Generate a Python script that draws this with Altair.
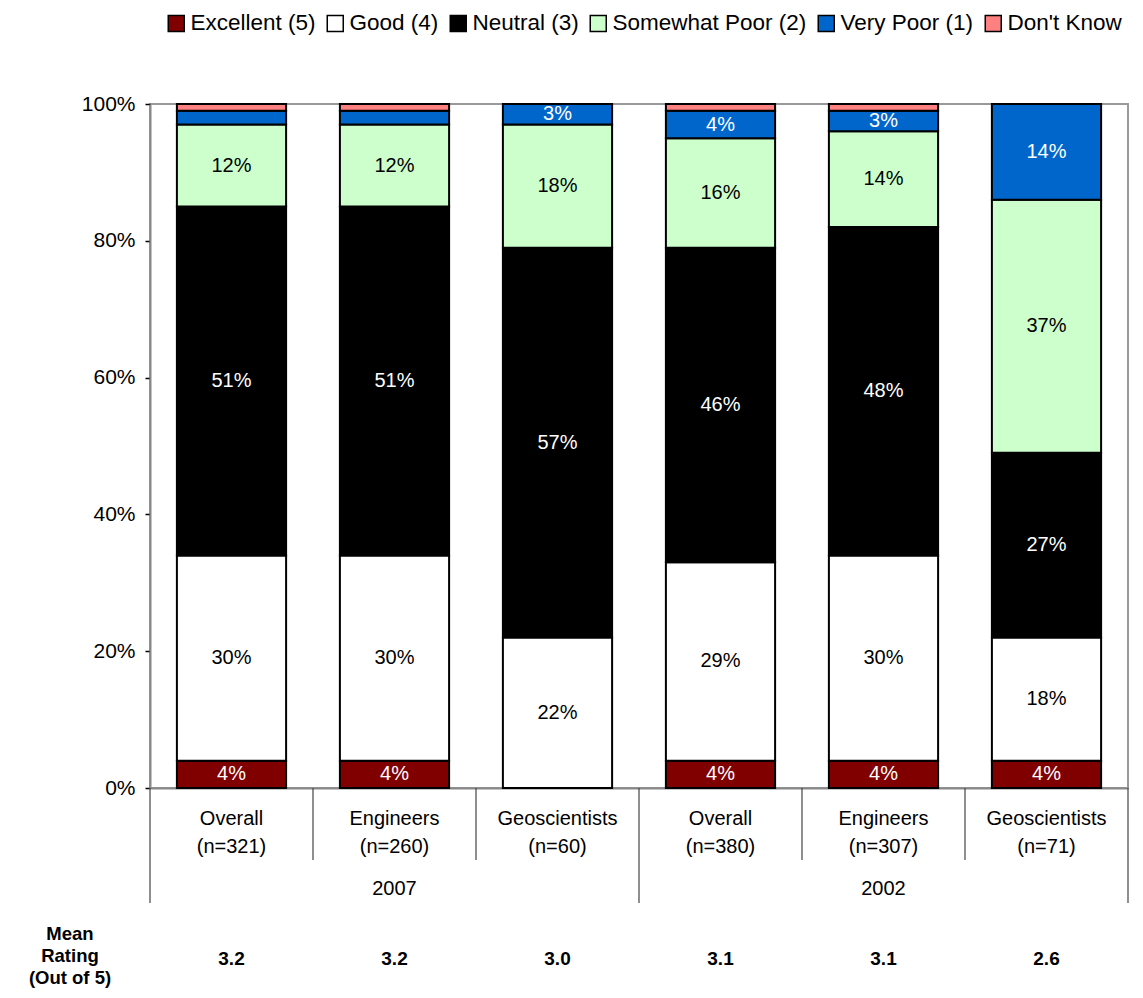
import altair as alt
import pandas as pd

categories = ["Overall|(n=321)", "Engineers|(n=260)", "Geoscientists|(n=60)",
              "Overall|(n=380)", "Engineers|(n=307)", "Geoscientists|(n=71)"]
responses = ["Excellent (5)", "Good (4)", "Neutral (3)",
             "Somewhat Poor (2)", "Very Poor (1)", "Don't Know"]
excellent = [4, 4, 0, 4, 4, 4]
good = [30, 30, 22, 29, 30, 18]
neutral = [51, 51, 57, 46, 48, 27]
somewhat_poor = [12, 12, 18, 16, 14, 37]
very_poor = [2, 2, 3, 4, 3, 14]
dont_know = [1, 1, 0, 1, 1, 0]
colors = ["#800000", "#FFFFFF", "#000000", "#CCFFCC", "#0066CC", "#FF8080"]
white_text = ["Excellent (5)", "Neutral (3)", "Very Poor (1)"]
years = ["2007", "2002"]
year_centers = ["Engineers|(n=260)", "Engineers|(n=307)"]
mean_ratings = [3.2, 3.2, 3.0, 3.1, 3.1, 2.6]
group_starts = ["Overall|(n=321)", "Overall|(n=380)"]
inner_starts = ["Engineers|(n=260)", "Geoscientists|(n=60)",
                "Engineers|(n=307)", "Geoscientists|(n=71)"]
group_ends = ["Geoscientists|(n=71)"]

series = [excellent, good, neutral, somewhat_poor, very_poor, dont_know]
rows = []
for r, (resp, vals) in enumerate(zip(responses, series)):
    for c, v in zip(categories, vals):
        rows.append({"cat": c, "resp": resp, "rank": r, "value": v})
df = pd.DataFrame(rows)

W, H = 978, 684
STEP = W / 6.0
FONT = "Liberation Sans"

xscale = alt.Scale(domain=categories, paddingInner=0.33, paddingOuter=0.165)
yscale = alt.Scale(domain=[0, 100], nice=False)
xaxis = alt.Axis(title=None, labelExpr="split(datum.label, '|')",
                 labelFontSize=20, labelLineHeight=28, labelAngle=0,
                 ticks=False, labelPadding=20, domainColor="#888",
                 domainWidth=2, labelColor="black", labelFont=FONT)
yaxis = alt.Axis(title=None, values=[0, 20, 40, 60, 80, 100],
                 labelExpr="datum.value + '%'", labelFontSize=21,
                 tickSize=5, tickColor="black", tickWidth=1.5,
                 domainColor="#888", domainWidth=2, grid=False,
                 labelPadding=10, labelColor="black", labelFont=FONT)


def X():
    return alt.X("cat:N", sort=categories, scale=xscale, axis=xaxis, title=None)


base = alt.Chart(df).transform_stack(
    stack="value", groupby=["cat"], sort=[alt.SortField("rank", order="ascending")],
    as_=["y0", "y1"]
).transform_calculate(mid="(datum.y0 + datum.y1) / 2")

bars = base.mark_bar(stroke="black", strokeWidth=2).encode(
    x=X(),
    y=alt.Y("y0:Q", scale=yscale, axis=yaxis, title=None),
    y2="y1:Q",
    fill=alt.Fill("resp:N", scale=alt.Scale(domain=responses, range=colors),
                  legend=alt.Legend(title=None, orient="none", legendX=15, legendY=-92,
                                    direction="horizontal", columns=6,
                                    symbolType="square", symbolSize=256,
                                    symbolStrokeColor="black", symbolStrokeWidth=1.5,
                                    labelFontSize=22.5, labelOffset=3, columnPadding=8,
                                    labelLimit=0, labelFont=FONT, labelColor="black")),
    order=alt.Order("rank:Q"),
)

labels = base.transform_filter("datum.value >= 3").transform_calculate(
    label="datum.value + '%'"
).mark_text(
    fontSize=20, font=FONT, baseline="middle", align="center"
).encode(
    x=X(),
    y=alt.Y("mid:Q", scale=yscale, axis=yaxis, title=None),
    text=alt.Text("label:N"),
    color=alt.condition(
        "indexof(" + str(white_text).replace('"', "'") + ", datum.resp) >= 0",
        alt.value("white"), alt.value("black")),
)

short_rules = alt.Chart(pd.DataFrame({"cat": inner_starts})).mark_rule(
    xOffset=-STEP / 2, color="#444", strokeWidth=1.2
).encode(x=X(), y=alt.value(H), y2=alt.value(H + 72))
long_rules_l = alt.Chart(pd.DataFrame({"cat": group_starts})).mark_rule(
    xOffset=-STEP / 2, color="#444", strokeWidth=1.2
).encode(x=X(), y=alt.value(H), y2=alt.value(H + 115))
long_rules_r = alt.Chart(pd.DataFrame({"cat": group_ends})).mark_rule(
    xOffset=STEP / 2, color="#444", strokeWidth=1.2
).encode(x=X(), y=alt.value(H), y2=alt.value(H + 115))

year_text = alt.Chart(pd.DataFrame({"cat": year_centers, "year": years})).mark_text(
    fontSize=20, font=FONT, baseline="middle", color="black"
).encode(x=X(), y=alt.value(H + 101), text="year:N")

mean_text = alt.Chart(pd.DataFrame({"cat": categories, "m": mean_ratings})).mark_text(
    fontSize=19, font=FONT, fontWeight="bold", baseline="middle", color="black"
).encode(x=X(), y=alt.value(855), text=alt.Text("m:Q", format=".1f"))

mean_title = alt.Chart(pd.DataFrame({"t": ["Mean\nRating\n(Out of 5)"]})).mark_text(
    fontSize=18.5, font=FONT, fontWeight="bold", baseline="middle", align="center",
    lineBreak="\n", lineHeight=22, color="black"
).encode(x=alt.value(-80), y=alt.value(830), text="t:N")

chart = alt.layer(bars, labels, short_rules, long_rules_l, long_rules_r,
                  year_text, mean_text, mean_title).properties(
    width=W, height=H,
    padding={"left": 142, "top": 96, "right": 7, "bottom": 202},
    autosize=alt.AutoSizeParams(type="none"),
).configure(font=FONT).configure_view(stroke="#999", strokeWidth=2)

chart.save("out.html", embed_options={"renderer": "svg", "actions": False})
